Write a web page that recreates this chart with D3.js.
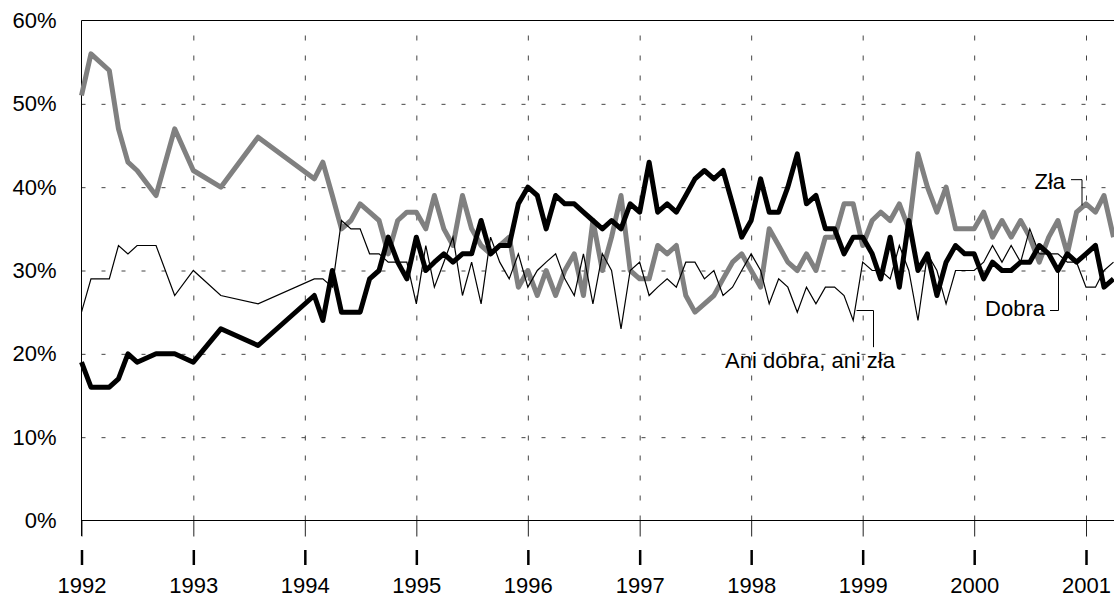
<!DOCTYPE html>
<html>
<head>
<meta charset="utf-8">
<script src="https://cdnjs.cloudflare.com/ajax/libs/d3/7.8.5/d3.min.js"></script>
<style>
  body { margin: 0; background: #fff; }
  text { font-family: Arial, "Liberation Sans", sans-serif; fill: #000; }
</style>
</head>
<body>
<div id="chart"></div>
<script>
// survey months
var months = [
  "1992-01","1992-02","1992-04","1992-05","1992-06","1992-07","1992-09","1992-11",
  "1993-01","1993-04","1993-08",
  "1994-02","1994-03","1994-04","1994-05","1994-06","1994-07","1994-08","1994-09","1994-10","1994-11","1994-12",
  "1995-01","1995-02","1995-03","1995-04","1995-05","1995-06","1995-07","1995-08","1995-09","1995-10","1995-11","1995-12",
  "1996-01","1996-02","1996-03","1996-04","1996-05","1996-06","1996-07","1996-08","1996-09","1996-10","1996-11","1996-12",
  "1997-01","1997-02","1997-03","1997-04","1997-05","1997-06","1997-07","1997-08","1997-09","1997-10","1997-11","1997-12",
  "1998-01","1998-02","1998-03","1998-04","1998-05","1998-06","1998-07","1998-08","1998-09","1998-10","1998-11","1998-12",
  "1999-01","1999-02","1999-03","1999-04","1999-05","1999-06","1999-07","1999-08","1999-09","1999-10","1999-11","1999-12",
  "2000-01","2000-02","2000-03","2000-04","2000-05","2000-06","2000-07","2000-08","2000-09","2000-10","2000-11","2000-12",
  "2001-01","2001-02","2001-03","2001-04"
];

var dobra = [
  19,16,16,17,20,19,20,20,
  19,23,21,
  27,24,30,25,25,25,29,30,34,31,29,
  34,30,31,32,31,32,32,36,32,33,33,38,
  40,39,35,39,38,38,37,36,35,36,35,38,
  37,43,37,38,37,39,41,42,41,42,38,34,
  36,41,37,37,40,44,38,39,35,35,32,34,
  34,32,29,34,28,36,30,32,27,31,33,32,
  32,29,31,30,30,31,31,33,32,30,32,31,
  32,33,28,29
];

var zla = [
  51,56,54,47,43,42,39,47,
  42,40,46,
  41,43,39,35,36,38,37,36,32,36,37,
  37,35,39,35,33,39,35,33,32,33,34,28,
  30,27,30,27,30,32,27,36,30,34,39,30,
  29,29,33,32,33,27,25,26,27,29,31,32,
  30,28,35,33,31,30,32,30,34,34,38,38,
  33,36,37,36,38,35,44,40,37,40,35,35,
  35,37,34,36,34,36,34,31,34,36,32,37,
  38,37,39,34
];

var ani = [
  25,29,29,33,32,33,33,27,
  30,27,26,
  29,29,28,36,35,35,32,32,31,31,31,
  26,33,28,31,34,27,31,26,34,31,29,32,
  28,30,31,32,29,27,32,26,32,30,23,30,
  31,27,28,29,28,31,31,29,30,27,28,30,
  32,30,26,29,28,25,28,26,28,28,27,24,
  31,30,30,29,33,30,24,32,30,26,30,30,
  30,31,33,31,33,31,35,32,32,32,31,31,
  28,28,30,31
];

var yTicks = [0, 10, 20, 30, 40, 50, 60];
var yearTicks = [1992, 1993, 1994, 1995, 1996, 1997, 1998, 1999, 2000, 2001];

var W = 1114, H = 598;
var plotLeft = 81.5, plotTop = 20.5, plotBottom = 520.5;
var fontSize = "22px";

var parse = d3.timeParse("%Y-%m");
var dates = months.map(function (m) { return parse(m); });
var years = yearTicks.map(function (yr) { return new Date(yr, 0, 1); });

var svg = d3.select("#chart").append("svg")
  .attr("width", W)
  .attr("height", H);

var x = d3.scaleTime()
  .domain([new Date(1992, 0, 1), new Date(2001, 0, 1)])
  .range([plotLeft, 1086]);

var y = d3.scaleLinear()
  .domain([0, 60])
  .range([plotBottom, plotTop]);

// horizontal dashed grid
svg.append("g")
  .attr("transform", "translate(" + plotLeft + ",0)")
  .call(d3.axisLeft(y).tickValues([10, 20, 30, 40, 50]).tickSize(-(W - plotLeft)).tickFormat(""))
  .call(function (g) { g.select(".domain").remove(); })
  .selectAll("line")
  .attr("stroke", "#444")
  .attr("stroke-dasharray", "4,16");

// vertical dashed grid
svg.append("g")
  .attr("transform", "translate(0," + plotBottom + ")")
  .call(d3.axisBottom(x).tickValues(years.slice(1)).tickSize(-(plotBottom - plotTop)).tickFormat(""))
  .call(function (g) { g.select(".domain").remove(); })
  .selectAll("line")
  .attr("stroke", "#444")
  .attr("stroke-dasharray", "5,15");

// y labels
svg.append("g")
  .attr("transform", "translate(" + plotLeft + ",0)")
  .call(d3.axisLeft(y).tickValues(yTicks).tickSize(0).tickPadding(25).tickFormat(function (d) { return d + "%"; }))
  .call(function (g) { g.select(".domain").remove(); })
  .selectAll("text")
  .attr("font-size", fontSize)
  .attr("font-family", "Arial, 'Liberation Sans', sans-serif");

// short ticks through the axis line
svg.append("g")
  .attr("transform", "translate(0," + plotBottom + ")")
  .call(d3.axisBottom(x).tickValues(years).tickSize(16).tickFormat(""))
  .call(function (g) { g.select(".domain").remove(); })
  .selectAll("line").attr("stroke", "#222");

// separate tick row with year labels
var xAxis = svg.append("g")
  .attr("transform", "translate(0,550)")
  .call(d3.axisBottom(x).tickValues(years).tickSize(15).tickPadding(12).tickFormat(d3.timeFormat("%Y")))
  .call(function (g) { g.select(".domain").remove(); });
xAxis.selectAll("line").attr("stroke", "#000").attr("stroke-width", 2.5);
xAxis.selectAll("text")
  .attr("font-size", fontSize)
  .attr("font-family", "Arial, 'Liberation Sans', sans-serif");

// frame
svg.append("line").attr("x1", plotLeft).attr("x2", W).attr("y1", plotTop).attr("y2", plotTop).attr("stroke", "#000");
svg.append("line").attr("x1", plotLeft).attr("x2", W).attr("y1", plotBottom).attr("y2", plotBottom).attr("stroke", "#000");
svg.append("line").attr("x1", plotLeft).attr("x2", plotLeft).attr("y1", plotTop).attr("y2", 536).attr("stroke", "#000");

var line = function (vals) {
  return d3.line()
    .x(function (d, i) { return x(dates[i]); })
    .y(function (d) { return y(d); })(vals);
};

svg.append("path").attr("d", line(zla))
  .attr("fill", "none").attr("stroke", "#808080").attr("stroke-width", 5).attr("stroke-linejoin", "round");
svg.append("path").attr("d", line(dobra))
  .attr("fill", "none").attr("stroke", "#000").attr("stroke-width", 5).attr("stroke-linejoin", "round");
svg.append("path").attr("d", line(ani))
  .attr("fill", "none").attr("stroke", "#000").attr("stroke-width", 1.2);

// labels with leader lines
svg.append("text").attr("x", 1065).attr("y", y(39.8)).attr("text-anchor", "end")
  .attr("font-size", fontSize).text("Zła");
svg.append("path")
  .attr("d", "M1071," + y(40.9) + "H1082V" + y(37.8))
  .attr("fill", "none").attr("stroke", "#000");

svg.append("text").attr("x", 1045).attr("y", y(24.6)).attr("text-anchor", "end")
  .attr("font-size", fontSize).text("Dobra");
svg.append("path")
  .attr("d", "M1050," + y(25.2) + "H1058.5V" + y(29.8))
  .attr("fill", "none").attr("stroke", "#000");

svg.append("text").attr("x", 810).attr("y", y(18.3)).attr("text-anchor", "middle")
  .attr("font-size", fontSize).text("Ani dobra, ani zła");
svg.append("path")
  .attr("d", "M856.5," + y(25.2) + "H873.5V" + y(20.8))
  .attr("fill", "none").attr("stroke", "#000");
</script>
</body>
</html>
